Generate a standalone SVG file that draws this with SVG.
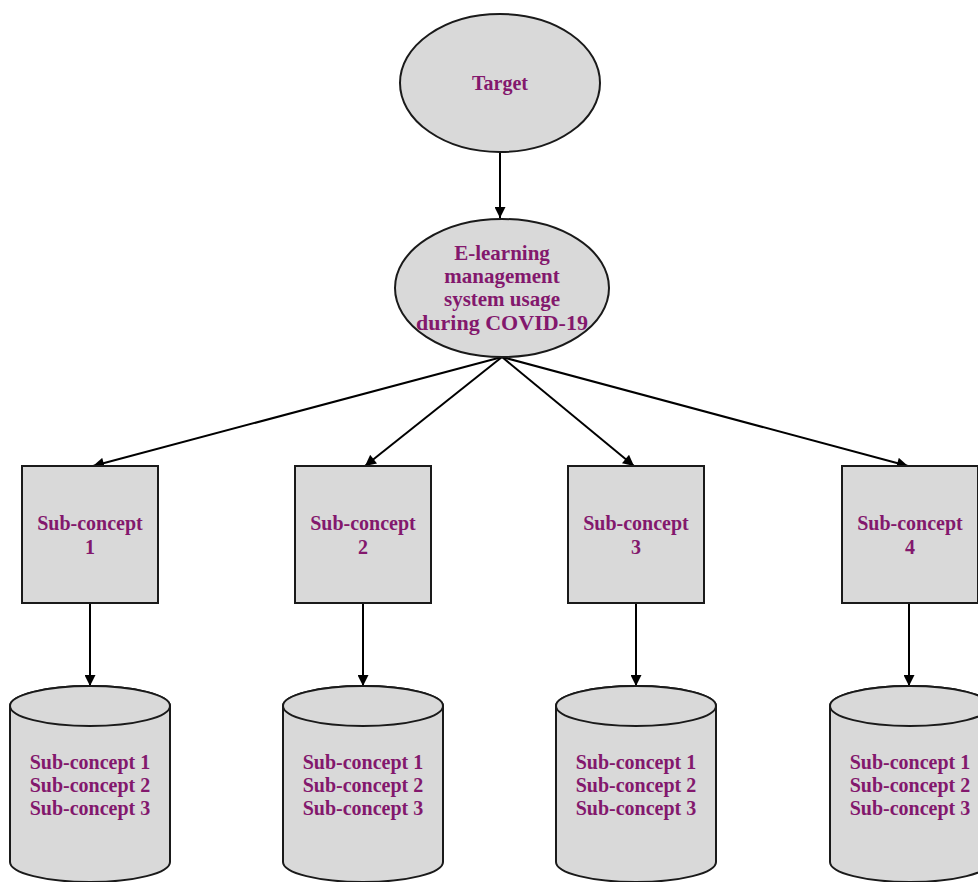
<svg xmlns="http://www.w3.org/2000/svg" width="978" height="882" viewBox="0 0 978 882">
<defs>
<style>
.shape{fill:#d9d9d9;stroke:#1a1a1a;stroke-width:2}
.lbl{font-family:"Liberation Serif","Times New Roman",serif;font-weight:bold;font-size:20px;fill:#83186d;text-anchor:middle}
.big{font-size:21px}
.conn{stroke:#000;stroke-width:2;fill:none;marker-end:url(#ah)}
</style>
<marker id="ah" viewBox="0 0 10 10" refX="10" refY="5" markerWidth="6" markerHeight="5.5" markerUnits="strokeWidth" orient="auto">
<path d="M0,0 L10,5 L0,10 Z" fill="#000"/>
</marker>
</defs>
<rect width="978" height="882" fill="#fff"/>
<g id="connectors">
<line class="conn" x1="500" y1="153" x2="500" y2="218"/>
<line class="conn" x1="502" y1="357" x2="93" y2="466"/>
<line class="conn" x1="502" y1="357" x2="365" y2="466"/>
<line class="conn" x1="502" y1="357" x2="634" y2="466"/>
<line class="conn" x1="502" y1="357" x2="908" y2="466"/>
<line class="conn" x1="90" y1="604" x2="90" y2="686"/>
<line class="conn" x1="363" y1="604" x2="363" y2="686"/>
<line class="conn" x1="636" y1="604" x2="636" y2="686"/>
<line class="conn" x1="909" y1="604" x2="909" y2="686"/>
</g>
<g id="target">
<ellipse class="shape" cx="500" cy="83" rx="100" ry="69"/>
<text class="lbl" x="500" y="90">Target</text>
</g>
<g id="elms">
<ellipse class="shape" cx="502" cy="288" rx="107" ry="69"/>
<text class="lbl big" x="502" y="260">E-learning</text>
<text class="lbl big" x="502" y="283">management</text>
<text class="lbl big" x="502" y="306">system usage</text>
<text class="lbl big" x="502" y="330" textLength="172" lengthAdjust="spacingAndGlyphs">during COVID-19</text>
</g>
<g id="sub1">
<rect class="shape" x="22" y="466" width="136" height="137"/>
<text class="lbl" x="90" y="530">Sub-concept</text>
<text class="lbl" x="90" y="554">1</text>
</g>
<g id="sub2">
<rect class="shape" x="295" y="466" width="136" height="137"/>
<text class="lbl" x="363" y="530">Sub-concept</text>
<text class="lbl" x="363" y="554">2</text>
</g>
<g id="sub3">
<rect class="shape" x="568" y="466" width="136" height="137"/>
<text class="lbl" x="636" y="530">Sub-concept</text>
<text class="lbl" x="636" y="554">3</text>
</g>
<g id="sub4">
<rect class="shape" x="842" y="466" width="136" height="137"/>
<text class="lbl" x="910" y="530">Sub-concept</text>
<text class="lbl" x="910" y="554">4</text>
</g>
<g id="cyl1">
<path class="shape" d="M10,706 L10,862 A80,20 0 0 0 170,862 L170,706 A80,20 0 0 0 10,706 Z"/>
<ellipse class="shape" cx="90" cy="706" rx="80" ry="20"/>
<text class="lbl" x="90" y="769">Sub-concept 1</text>
<text class="lbl" x="90" y="792">Sub-concept 2</text>
<text class="lbl" x="90" y="815">Sub-concept 3</text>
</g>
<g id="cyl2">
<path class="shape" d="M283,706 L283,862 A80,20 0 0 0 443,862 L443,706 A80,20 0 0 0 283,706 Z"/>
<ellipse class="shape" cx="363" cy="706" rx="80" ry="20"/>
<text class="lbl" x="363" y="769">Sub-concept 1</text>
<text class="lbl" x="363" y="792">Sub-concept 2</text>
<text class="lbl" x="363" y="815">Sub-concept 3</text>
</g>
<g id="cyl3">
<path class="shape" d="M556,706 L556,862 A80,20 0 0 0 716,862 L716,706 A80,20 0 0 0 556,706 Z"/>
<ellipse class="shape" cx="636" cy="706" rx="80" ry="20"/>
<text class="lbl" x="636" y="769">Sub-concept 1</text>
<text class="lbl" x="636" y="792">Sub-concept 2</text>
<text class="lbl" x="636" y="815">Sub-concept 3</text>
</g>
<g id="cyl4">
<path class="shape" d="M830,706 L830,862 A80,20 0 0 0 990,862 L990,706 A80,20 0 0 0 830,706 Z"/>
<ellipse class="shape" cx="910" cy="706" rx="80" ry="20"/>
<text class="lbl" x="910" y="769">Sub-concept 1</text>
<text class="lbl" x="910" y="792">Sub-concept 2</text>
<text class="lbl" x="910" y="815">Sub-concept 3</text>
</g>
</svg>
